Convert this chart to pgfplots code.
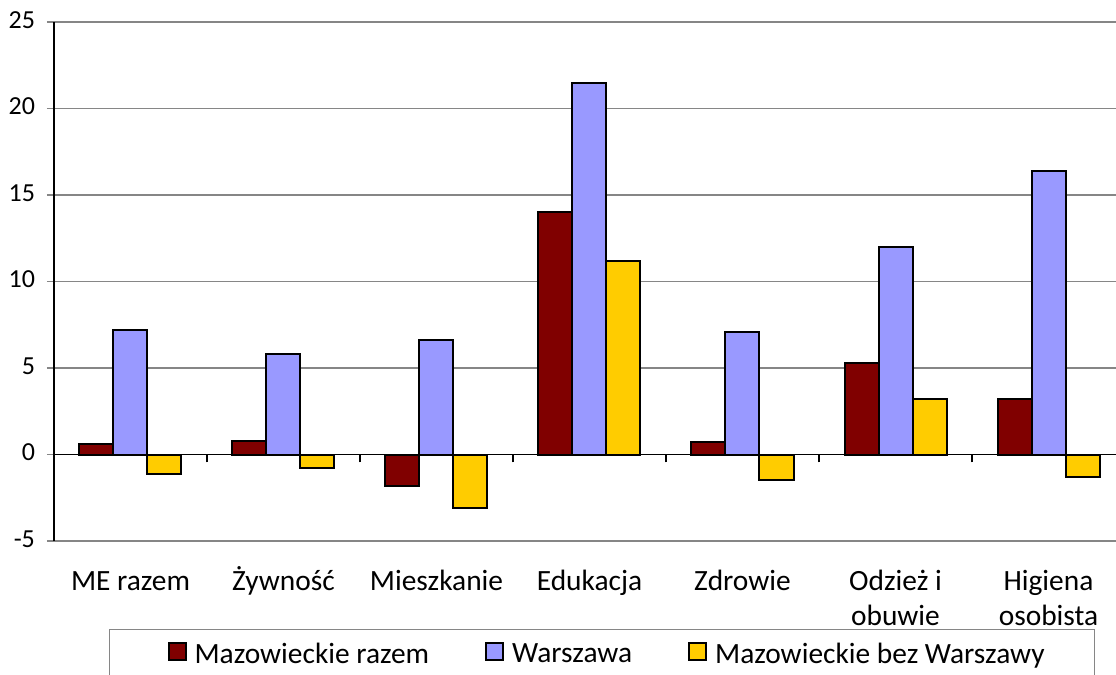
\documentclass[border=0pt]{standalone}
\usepackage{pgfplots}
\pgfplotsset{compat=1.18}
\usepackage{fontspec}
\setmainfont{Carlito}
\definecolor{cRed}{RGB}{128,0,0}
\definecolor{cBlue}{RGB}{153,153,255}
\definecolor{cYel}{RGB}{255,204,0}
\definecolor{cGrid}{RGB}{134,134,134}
\begin{document}
\begin{tikzpicture}
\useasboundingbox (-27pt,-67pt) rectangle (531pt,270.5pt);
\begin{scope}
\clip (-27pt,-67pt) rectangle (531pt,270.5pt);
\begin{axis}[
  at={(0,0)}, anchor=south west,
  scale only axis, width=535.5pt, height=259.5pt,
  xmin=-0.5, xmax=6.5, ymin=-5, ymax=25,
  axis y line*=left, axis x line*=bottom,
  x axis line style={draw=none},
  y axis line style={black, line width=0.6pt},
  xtick={0,...,6},
  xticklabels={{ME razem},{Żywność},{Mieszkanie},{Edukacja},{Zdrowie},{Odzież i\\obuwie},{Higiena\\osobista}},
  typeset ticklabels with strut,
  xtick style={draw=none},
  xticklabel style={font=\fontsize{14.7}{17.5}\selectfont, align=center, yshift=-5.5pt},
  ytick={-5,0,...,25},
  ytick style={cGrid, line width=0.6pt},
  tick align=outside, major tick length=3.5pt,
  yticklabel style={font=\fontsize{13}{15}\selectfont, xshift=-2.5pt},
  /pgf/number format/assume math mode=true,
  ymajorgrids, grid style={cGrid, line width=0.6pt},
  ybar=0pt, bar width=17pt,
  legend columns=3,
  legend style={at={(0,0)}, anchor=north west, xshift=27.5pt, yshift=-44pt,
    font=\fontsize{14.7}{17}\selectfont, draw=cGrid, line width=0.6pt,
    inner xsep=29pt, inner ysep=4.5pt,
    nodes={inner xsep=0pt},
    /tikz/every odd column/.append style={column sep=4pt},
    /tikz/every even column/.append style={column sep=28pt}},
  legend image code/.code={\path[#1] (0pt,-3pt) rectangle (8.5pt,5.5pt);
    \draw[draw=black, fill=none, line width=0.9pt] (0pt,-3pt) rectangle (8.5pt,5.5pt);},
]
\addplot[fill=cRed, draw=black, line width=1pt] coordinates {(0,0.6) (1,0.8) (2,-1.8) (3,14.0) (4,0.7) (5,5.3) (6,3.2)};
\addplot[fill=cBlue, draw=black, line width=1pt] coordinates {(0,7.2) (1,5.8) (2,6.6) (3,21.5) (4,7.1) (5,12.0) (6,16.4)};
\addplot[fill=cYel, draw=black, line width=1pt] coordinates {(0,-1.1) (1,-0.8) (2,-3.1) (3,11.2) (4,-1.5) (5,3.2) (6,-1.3)};
\legend{Mazowieckie razem, Warszawa, Mazowieckie bez Warszawy\hspace*{-4pt}}
\end{axis}
\begin{axis}[
  at={(0,0)}, anchor=south west,
  scale only axis, width=535.5pt, height=259.5pt,
  xmin=-0.5, xmax=6.5, ymin=-5, ymax=25,
  axis x line=middle, axis y line=none,
  x axis line style={-, black, line width=0.6pt},
  xtick={0.5,1.5,...,6.5}, xticklabels={},
  xtick style={black, line width=0.6pt},
  tick align=outside, major tick length=4pt,
]
\end{axis}
\end{scope}
\end{tikzpicture}
\end{document}
